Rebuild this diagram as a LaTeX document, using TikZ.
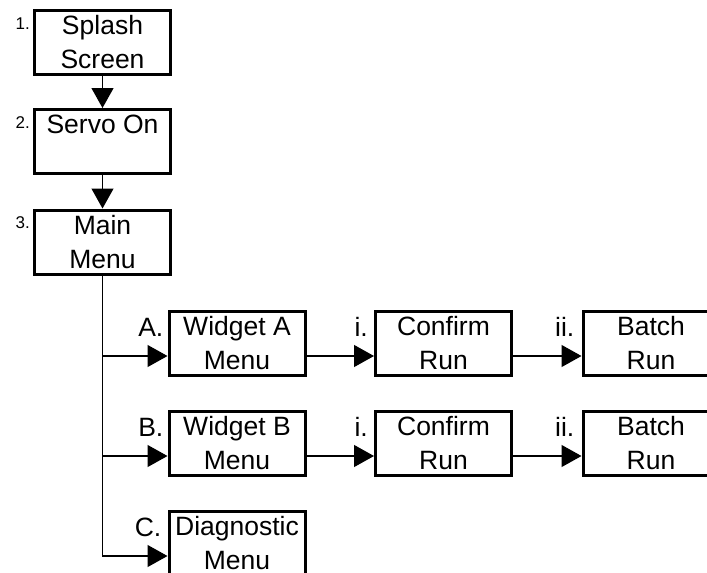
\documentclass[tikz,border=0pt]{standalone}
\usepackage{fontspec}
\setmainfont{Liberation Sans}
\usetikzlibrary{arrows.meta}

\begin{document}
\begin{tikzpicture}[x=1pt, y=-1pt, >={Triangle[length=20pt,width=22pt]},
	menu/.style={draw, line width=3pt, minimum width=136pt, minimum height=64pt,
		inner sep=0pt, align=center, font=\fontsize{26.5}{34}\selectfont},
	num/.style={inner sep=0pt, anchor=base east, font=\fontsize{17}{20}\selectfont},
	lbl/.style={inner sep=0pt, anchor=base east, font=\fontsize{26.5}{34}\selectfont},
	flow/.style={->, line width=1.2pt}]

	\clip (0,0) rectangle (707,573);

	% === NODES === (((
	\node[menu] (splash) at (102.5,42.5) {Splash\\Screen};
	\node[menu] (servo) at (102.5,141.5) {Servo On\\\phantom{Menu}};
	\node[menu] (main) at (102.5,242) {Main\\Menu};

	\node[menu] (wa) at (237,343) {Widget A\\Menu};
	\node[menu] (cfa) at (443.5,343) {Confirm\\Run};
	\node[menu] (bta) at (651,343) {Batch\\Run};

	\node[menu] (wb) at (237,443) {Widget B\\Menu};
	\node[menu] (cfb) at (443.5,443) {Confirm\\Run};
	\node[menu] (btb) at (651,443) {Batch\\Run};

	\node[menu] (diag) at (237,543) {Diagnostic\\Menu};
	% )))

	% === LABELS === (((
	\node[num] (n1) at ([xshift=-3pt, yshift=-20pt]splash.north west) {1.};
	\node[num] (n2) at ([xshift=-3pt, yshift=-20pt]servo.north west) {2.};
	\node[num] (n3) at ([xshift=-3pt, yshift=-20pt]main.north west) {3.};

	\node[lbl] (la) at ([xshift=-4pt, yshift=-27pt]wa.north west) {A.};
	\node[lbl] (lb) at ([xshift=-4pt, yshift=-27pt]wb.north west) {B.};
	\node[lbl] (lc) at ([xshift=-6pt, yshift=-27pt]diag.north west) {C.};

	\node[lbl] (lai) at ([xshift=-6pt, yshift=-27pt]cfa.north west) {i.};
	\node[lbl] (laii) at ([xshift=-7pt, yshift=-27pt]bta.north west) {ii.};
	\node[lbl] (lbi) at ([xshift=-6pt, yshift=-27pt]cfb.north west) {i.};
	\node[lbl] (lbii) at ([xshift=-7pt, yshift=-27pt]btb.north west) {ii.};
	% )))

	% === LINES === (((
	\draw[flow] (splash) -- (servo);
	\draw[flow] (servo) -- (main);

	\draw[flow] (main.south) |- ([yshift=-13pt]wa.west);
	\draw[flow] (main.south) |- ([yshift=-13pt]wb.west);
	\draw[flow] (main.south) |- ([yshift=-13pt]diag.west);

	\draw[flow] ([yshift=-13pt]wa.east) -- ([yshift=-13pt]cfa.west);
	\draw[flow] ([yshift=-13pt]cfa.east) -- ([yshift=-13pt]bta.west);

	\draw[flow] ([yshift=-13pt]wb.east) -- ([yshift=-13pt]cfb.west);
	\draw[flow] ([yshift=-13pt]cfb.east) -- ([yshift=-13pt]btb.west);
	% )))

\end{tikzpicture}
\end{document}
